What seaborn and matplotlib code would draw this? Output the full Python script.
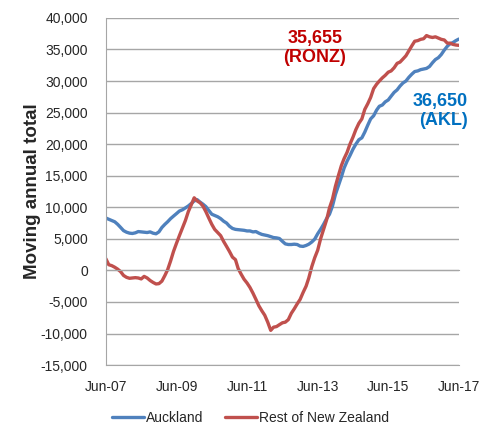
"""   Moving annual total net migration: Auckland vs rest of New Zealand   """

import matplotlib.pyplot as plt
import matplotlib.dates as mdates
import matplotlib.ticker as mticker
import numpy as np
import pandas as pd
import seaborn as sns


# ~~~~~~~~~~   Data (monthly Jun-07 .. Jun-17)   ~~~~~~~~~~~~~~~~~~~~~~~~~~~~~~~~~~~~~~~~ #
auckland = [8300, 8100, 7900, 7700, 7300, 6800, 6300, 6050, 5900, 5850,
            5950, 6150, 6100, 6050, 6000, 6100, 5900, 5800, 6100, 6800,
            7300, 7700, 8200, 8600, 9000, 9400, 9600, 9900, 10200, 10600,
            11000, 11200, 10800, 10500, 10100, 9500, 8900, 8700, 8500, 8200,
            7800, 7500, 7000, 6650, 6500, 6450, 6400, 6350, 6250, 6250,
            6100, 6150, 5900, 5700, 5600, 5500, 5350, 5200, 5150, 5050,
            4600, 4200, 4100, 4100, 4150, 4100, 3850, 3800, 3950, 4150,
            4500, 4950, 5800, 6500, 7300, 8200, 8900, 10200, 12000, 13400,
            14800, 16200, 17300, 18200, 19200, 20000, 20700, 21000, 21900, 23000,
            24000, 24500, 25400, 26000, 26200, 26700, 27000, 27600, 28200, 28600,
            29200, 29700, 30000, 30600, 31100, 31500, 31600, 31800, 31900, 32000,
            32300, 32900, 33400, 33700, 34200, 34900, 35500, 35900, 36100, 36400,
            36650]

rest_of_nz = [1850, 900, 750, 500, 200, -200, -800, -1100, -1250, -1200,
              -1150, -1200, -1350, -950, -1200, -1600, -1900, -2150, -2100, -1700,
              -800, 100, 1500, 3000, 4300, 5500, 6700, 7900, 9300, 10400,
              11500, 11000, 10700, 10200, 9300, 8300, 7300, 6500, 6000, 5500,
              4600, 3800, 3000, 2100, 1700, 300, -600, -1400, -2000, -2700,
              -3600, -4600, -5600, -6400, -7100, -8200, -9500, -9000, -8900, -8600,
              -8300, -8200, -7800, -6800, -6100, -5300, -4600, -3500, -2500, -1200,
              600, 2000, 3200, 5000, 6500, 8000, 9900, 11300, 13300, 15000,
              16600, 17700, 18700, 20000, 21100, 22300, 23300, 24000, 25500, 26400,
              27400, 28800, 29500, 30000, 30500, 30900, 31400, 31600, 32100, 32800,
              33000, 33500, 34000, 34800, 35600, 36300, 36400, 36600, 36700, 37200,
              37000, 36900, 37000, 36800, 36600, 36500, 36000, 36000, 35800, 35700,
              35655]

months = pd.date_range('2007-06-01', '2017-06-01', freq='MS')
tick_dates = pd.date_range('2007-06-01', '2017-06-01', freq='12MS')
tick_labels = ['Jun-07', '', 'Jun-09', '', 'Jun-11', '', 'Jun-13', '', 'Jun-15', '', 'Jun-17']
series_names = ['Auckland', 'Rest of New Zealand']
colours = ['#4F81BD', '#C0504D']


# ~~~~~~~~~~   Build the long table   ~~~~~~~~~~~~~~~~~~~~~~~~~~~~~~~~~~~~~~~~~~~~~~~~~~~~ #
df = pd.DataFrame({
    'month': np.concatenate([months, months]),
    'value': auckland + rest_of_nz,
    'region': [series_names[0]] * len(months) + [series_names[1]] * len(months),
})

sns.set_style('white')
plt.rcParams['font.family'] = ['Liberation Sans', 'DejaVu Sans']

fig = plt.figure(figsize=(4.79, 4.26), dpi=100)
ax = fig.add_axes([0.221, 0.143, 0.737, 0.815])

sns.lineplot(data=df, x='month', y='value', hue='region', palette=colours,
             linewidth=2.4, ax=ax, legend=True)

# y axis
ax.set_ylim(-15000, 40000)
ax.yaxis.set_major_locator(mticker.MultipleLocator(5000))
ax.yaxis.set_major_formatter(mticker.FuncFormatter(lambda v, p: f'{v:,.0f}'))
ax.grid(axis='y', color='#A6A6A6', linewidth=1)
ax.set_axisbelow(True)
ax.tick_params(axis='y', length=5, color='#A6A6A6', labelsize=10, pad=8)
ax.set_ylabel('Moving annual total', fontsize=13.5, fontweight='bold', labelpad=0)

# x axis: ticks on the zero line, labels at the bottom
ax.set_xlim(months[0], months[-1])
ax.spines['bottom'].set_position(('data', 0))
ax.spines['bottom'].set_color('#A6A6A6')
ax.spines['left'].set_color('#A6A6A6')
ax.spines['top'].set_visible(False)
ax.spines['right'].set_visible(False)
ax.set_xticks(tick_dates)
ax.tick_params(axis='x', length=5, color='#A6A6A6', labelbottom=False)
ax.set_xlabel('')

sec = ax.secondary_xaxis(0)
sec.set_xticks(tick_dates)
sec.set_xticklabels(tick_labels)
sec.tick_params(length=0, labelsize=10, pad=11)
sec.spines['bottom'].set_color('#A6A6A6')

# end-value labels
ax.text(mdates.date2num(pd.Timestamp('2013-05-01')), 35300, '35,655\n(RONZ)',
        color='#C00000', fontsize=13, fontweight='bold', ha='center', va='center',
        linespacing=1.15)
ax.text(mdates.date2num(pd.Timestamp('2017-09-01')), 25200, '36,650\n(AKL)',
        color='#0070C0', fontsize=13, fontweight='bold', ha='right', va='center',
        linespacing=1.15)

# legend below the plot
handles, labels = ax.get_legend_handles_labels()
ax.legend(handles, labels, loc='center', bbox_to_anchor=(0.41, -0.153), ncol=2,
          frameon=False, fontsize=10, handlelength=2.3, handletextpad=0.1,
          columnspacing=1.6)

fig.savefig('out.png', dpi=100)
